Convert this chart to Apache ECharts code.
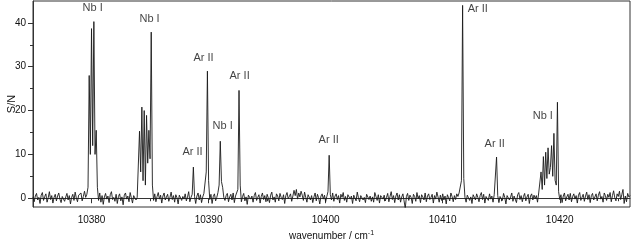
<!DOCTYPE html>
<html>
<head>
<meta charset="utf-8">
<script src="https://cdn.jsdelivr.net/npm/echarts@6/dist/echarts.min.js"></script>
<style>html,body{margin:0;padding:0;background:#fff;}#c{width:631px;height:243px;}</style>
</head>
<body>
<div id="c"></div>
<script>
// spectrum: wavenumber grid start / step (cm^-1) and S/N values
var wnStart = 10375.0;
var wnStep = 0.1;
var snr = [
 0.3,-0.8,0.5,1.1,-0.4,0.2,-1.2,0.7,1.3,-0.5,
 0.4,1.0,-0.9,0.1,1.5,-0.3,0.6,-1.1,0.2,0.9,
 -0.6,0.5,1.2,-0.2,-1.0,0.4,0.8,-0.7,0.3,1.1,
 -0.4,0.6,-1.3,0.2,0.9,-0.5,1.4,0.1,-0.8,0.7,
 0.3,1.2,-0.6,0.4,1.6,0.2,0.9,2.5,28.0,10.0,
 38.7,12.0,40.3,10.0,15.5,2.5,-0.5,1.2,-0.9,0.6,
 -1.4,0.3,1.1,-0.2,0.5,-1.0,0.8,1.5,-0.3,0.2,
 -0.7,0.9,-1.2,0.4,1.0,-0.6,0.3,-1.5,0.7,1.2,
 -0.2,0.5,-0.8,1.3,0.1,-1.1,0.6,0.9,-0.4,0.2,
 0.5,15.3,6.0,20.8,4.0,20.0,3.0,18.9,8.0,15.5,
 9.0,37.9,3.0,-0.5,1.0,-0.8,0.4,1.3,-0.2,0.7,
 -1.1,0.5,1.2,-0.4,0.3,0.9,-0.7,0.2,1.4,-0.3,
 0.6,-0.9,0.8,0.1,-1.3,0.7,1.1,-0.5,0.4,-0.2,
 1.0,-0.6,0.3,1.5,-0.8,0.2,0.9,7.1,0.4,-1.2,
 0.5,1.2,-0.4,0.8,-1.0,0.3,1.1,1.5,6.0,29.0,
 4.0,-0.3,0.9,-1.2,0.4,1.0,-0.6,0.2,1.3,3.0,
 13.0,3.8,2.5,0.2,-0.5,0.6,1.1,-0.8,0.3,0.9,
 -0.4,1.2,-1.0,0.5,0.8,2.0,24.6,3.0,-0.8,0.4,
 1.1,-0.6,0.3,-1.4,0.7,1.0,-0.2,0.5,-0.9,0.6,
 1.3,-0.5,0.2,0.8,-1.1,0.4,1.2,-0.3,0.6,-0.8,
 0.9,0.1,-1.0,0.7,1.4,-0.4,0.3,-0.9,1.0,0.5,
 -0.6,1.1,0.2,-0.3,0.8,-1.2,0.6,1.3,-0.1,0.4,
 1.0,-0.7,0.5,1.8,0.6,2.0,-0.2,1.2,0.3,1.6,
 0.7,-0.5,1.4,0.2,-0.9,0.8,1.1,-0.4,0.6,-1.0,
 0.3,1.2,-0.6,0.9,0.1,-1.3,0.5,1.0,-0.2,0.7,
 -0.8,0.4,1.5,9.8,0.8,-0.4,1.2,-0.7,0.5,1.0,
 -0.3,0.6,-1.1,0.9,0.2,1.3,-0.5,0.4,-0.9,0.8,
 1.1,-0.2,0.5,-1.2,0.7,0.3,-0.6,1.4,0.1,-0.8,
 0.6,1.0,-0.4,0.2,-1.0,0.9,1.2,-0.3,0.5,-0.7,
 0.3,-0.9,1.3,0.4,-0.5,0.8,-1.1,0.6,1.0,-0.2,
 0.7,-0.6,0.2,1.1,-0.8,0.4,1.5,-0.3,0.6,-1.0,
 0.5,1.2,-0.4,0.8,-0.9,0.3,1.0,-0.6,-2.3,0.4,
 1.1,-0.5,0.7,0.2,-1.2,0.9,0.4,-0.7,1.3,-0.1,
 0.6,-1.0,0.8,0.3,-0.4,1.2,-0.8,0.5,1.0,-0.3,
 0.2,0.9,-1.1,0.6,-0.2,1.4,0.3,-0.9,0.7,-0.5,
 1.0,-0.4,0.5,-1.3,0.8,0.1,-0.6,1.2,0.4,-0.8,
 0.6,-0.3,1.0,0.4,1.2,0.8,4.0,44.0,4.5,0.2,
 -0.9,0.7,1.1,-0.5,0.3,-1.2,0.8,0.5,-0.4,1.0,
 0.2,-0.8,0.6,1.3,-0.3,0.9,-1.1,0.4,0.7,-0.5,
 1.0,-0.2,0.5,-0.9,0.8,1.2,9.4,0.6,-1.0,0.4,
 0.7,-0.5,1.1,0.2,-1.3,0.6,0.9,-0.4,0.3,1.2,
 -0.7,0.5,0.1,-1.0,0.8,1.3,-0.3,0.6,-0.8,0.4,
 1.1,-0.6,0.3,0.9,-1.2,0.5,1.0,-0.4,0.7,-0.1,
 0.6,-0.9,1.2,1.0,6.0,2.0,9.5,3.0,10.5,4.5,
 11.5,5.5,7.0,12.0,5.0,14.8,4.1,3.0,21.9,1.5,
 -0.3,0.8,-1.0,0.5,1.2,-0.6,0.3,0.9,-0.4,1.1,
 -0.8,0.4,1.0,-0.2,0.6,-1.1,0.7,1.3,-0.5,0.2,
 0.9,-0.7,0.5,1.4,-0.3,0.8,-1.0,0.6,1.1,-0.4,
 0.3,1.0,-0.6,0.7,1.5,-0.2,0.4,-0.9,1.2,0.6,
 -0.5,0.9,0.2,1.3,-0.8,0.6,1.7,0.1,-0.6,1.0,
 0.4,1.6,-0.3,0.8,2.0,-1.2,0.5,-0.8,1.1,0.3,
 0.6
];

// line assignments
var annoText = ['Nb I','Nb I','Ar II','Ar II','Nb I','Ar II','Ar II','Ar II','Ar II','Nb I'];
var annoX = [10380.1,10384.96,10388.63,10389.57,10391.2,10392.65,10400.26,10413.0,10414.44,10418.55];
var annoY = [43.3,41.0,10.5,31.9,16.6,27.8,13.4,43.1,12.3,18.7];

// axes
var xMin = 10375, xMax = 10426;
var yMin = -2, yMax = 45;
var xTicks = [10380,10390,10400,10410,10420];
var xMinorTicks = [10385,10395,10405,10415,10425];
var yTicks = [0,10,20,30,40];
var yMinorTicks = [5,15,25,35];

var lineData = snr.map(function(v,i){ return [wnStart + wnStep*i, v]; });
var annoData = annoText.map(function(t,i){ return {name:t, value:[annoX[i], annoY[i]]}; });

var FONT = '"Liberation Sans", Arial, sans-serif';
var TXT = '#111';
var AX = '#333';

var chart = echarts.init(document.getElementById('c'), null, {renderer:'canvas'});
chart.setOption({
  animation:false,
  backgroundColor:'#fff',
  grid:{left:33,right:1,top:1,bottom:36,show:true,borderColor:AX,borderWidth:1,backgroundColor:'transparent',
        containLabel:false, outerBoundsMode:'none'},
  xAxis:[{
    type:'value', min:xMin, max:xMax, position:'bottom',
    name:'{a|wavenumber / cm}{s|-1}', nameLocation:'middle', nameGap:23, nameMoveOverlap:false,
    nameTextStyle:{rich:{a:{fontFamily:FONT,fontSize:10,color:TXT},s:{fontFamily:FONT,fontSize:7,color:TXT,verticalAlign:'top',padding:[0,0,6,0]}}},
    axisLine:{show:true,lineStyle:{color:AX,width:1}},
    axisTick:{show:true,length:5,lineStyle:{color:AX},customValues:xTicks},
    axisLabel:{show:true,margin:8,fontFamily:FONT,fontSize:10,color:TXT,customValues:xTicks,
               formatter:function(v){ return String(v); }},
    splitLine:{show:false}
  },{
    type:'value', min:xMin, max:xMax, position:'bottom', gridIndex:0,
    axisLine:{show:false},
    axisTick:{show:true,length:3,lineStyle:{color:AX},customValues:xMinorTicks},
    axisLabel:{show:false},
    splitLine:{show:false}
  }],
  yAxis:[{
    type:'value', min:yMin, max:yMax, position:'left',
    name:'S/N', nameLocation:'middle', nameGap:16, nameRotate:90, nameMoveOverlap:false,
    nameTextStyle:{fontFamily:FONT,fontSize:11,color:TXT},
    axisLine:{show:true,lineStyle:{color:AX,width:1}},
    axisTick:{show:true,length:5,lineStyle:{color:AX},customValues:yTicks},
    axisLabel:{show:true,margin:7,fontFamily:FONT,fontSize:10,color:TXT,customValues:yTicks,
               formatter:function(v){ return String(v); }},
    splitLine:{show:false}
  },{
    type:'value', min:yMin, max:yMax, position:'left', gridIndex:0,
    axisLine:{show:false},
    axisTick:{show:true,length:3,lineStyle:{color:AX},customValues:yMinorTicks},
    axisLabel:{show:false},
    splitLine:{show:false}
  }],
  series:[{
    type:'line', xAxisIndex:0, yAxisIndex:0, data:lineData,
    showSymbol:false, symbol:'none', clip:true,
    lineStyle:{color:'#1a1a1a',width:0.9}
  },{
    type:'scatter', xAxisIndex:0, yAxisIndex:0, data:annoData,
    symbolSize:0, silent:true,
    label:{show:true,position:'inside',formatter:'{b}',fontFamily:FONT,fontSize:11,color:TXT}
  }]
});
</script>
</body>
</html>
